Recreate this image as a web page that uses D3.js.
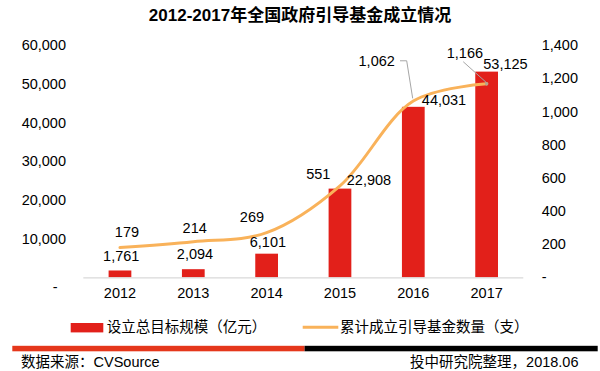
<!DOCTYPE html>
<html>
  <head>
    <meta charset="utf-8">
    <title>2012-2017年全国政府引导基金成立情况</title>
    <script src="https://cdn.jsdelivr.net/npm/d3@7"></script>
  </head>

  <style>
    body {
      margin: 0;
      background-color: #fff;
    }

    text {
      font-family: "Liberation Sans", Arial, "Noto Sans CJK SC", sans-serif;
      fill: #000;
    }

    .chart_title {
      font-size: 17px;
      font-weight: bold;
      text-anchor: middle;
    }

    .tick_label, .val_label, .legend_label {
      font-size: 14.5px;
    }

    .source {
      font-size: 14.5px;
    }
  </style>

  <body>
    <div id="chart"></div>
    <script>

    // data
    var years = ['2012', '2013', '2014', '2015', '2016', '2017'];
    var fundScale = [1761, 2094, 6101, 22908, 44031, 53125];   // 设立总目标规模（亿元）
    var fundCount = [179, 214, 269, 551, 1062, 1166];          // 累计成立引导基金数量（支）
    var leftTicks = [0, 10000, 20000, 30000, 40000, 50000, 60000];
    var rightTicks = [0, 200, 400, 600, 800, 1000, 1200, 1400];

    var width = 600;
    var height = 371;
    var plotLeft = 83.3;
    var plotRight = 523.3;
    var plotTop = 45;
    var plotBottom = 277.3;

    var barColor = '#e2201a';
    var lineColor = '#f9b25a';

    var svg = d3.select('#chart').append('svg')
      .attr('width', width)
      .attr('height', height)
      .style('background', '#fff');

    var xScale = d3.scaleBand()
      .domain(years)
      .range([plotLeft, plotRight])
      .paddingInner(0.69)
      .paddingOuter(0.345);

    var yLeft = d3.scaleLinear()
      .domain([0, 60000])
      .range([plotBottom, plotTop]);

    var yRight = d3.scaleLinear()
      .domain([0, 1400])
      .range([plotBottom, plotTop]);

    function cx(y) {
      return xScale(y) + xScale.bandwidth() / 2;
    }

    var fmt = d3.format(',');

    svg.append('text')
      .attr('class', 'chart_title')
      .attr('x', 300)
      .attr('y', 14.6)
      .attr('dy', '0.35em')
      .text('2012-2017年全国政府引导基金成立情况');

    // left axis
    var leftAxis = svg.append('g')
      .attr('transform', 'translate(66,0)')
      .call(d3.axisLeft(yLeft)
        .tickValues(leftTicks)
        .tickSize(0)
        .tickPadding(0)
        .tickFormat(function(d) { return d === 0 ? '-' : fmt(d); }));
    leftAxis.select('.domain').remove();
    leftAxis.selectAll('text')
      .attr('class', 'tick_label')
      .attr('fill', '#000')
      .style('font-family', null);
    // the zero dash sits a little lower and further in
    leftAxis.selectAll('.tick').filter(function(d) { return d === 0; })
      .select('text')
      .attr('x', -8.5)
      .attr('dy', '1em');

    // right axis
    var rightAxis = svg.append('g')
      .attr('transform', 'translate(541.7,0)')
      .call(d3.axisRight(yRight)
        .tickValues(rightTicks)
        .tickSize(0)
        .tickPadding(0)
        .tickFormat(function(d) { return d === 0 ? '-' : fmt(d); }));
    rightAxis.select('.domain').remove();
    rightAxis.selectAll('text')
      .attr('class', 'tick_label')
      .attr('fill', '#000')
      .style('font-family', null);

    // bars
    svg.append('g')
      .selectAll('rect')
      .data(fundScale)
      .enter().append('rect')
      .attr('x', function(d, i) { return xScale(years[i]); })
      .attr('width', xScale.bandwidth())
      .attr('y', function(d) { return yLeft(d); })
      .attr('height', function(d) { return plotBottom - yLeft(d); })
      .attr('fill', barColor);

    // baseline
    svg.append('line')
      .attr('x1', plotLeft)
      .attr('x2', plotRight)
      .attr('y1', plotBottom + 0.5)
      .attr('y2', plotBottom + 0.5)
      .attr('stroke', '#d9d9d9')
      .attr('stroke-width', 1.2);

    // x labels
    svg.append('g')
      .selectAll('text')
      .data(years)
      .enter().append('text')
      .attr('class', 'tick_label')
      .attr('x', function(d) { return cx(d); })
      .attr('y', 293.3)
      .attr('dy', '0.35em')
      .attr('text-anchor', 'middle')
      .text(function(d) { return d; });

    // line
    var line = d3.line()
      .x(function(d, i) { return cx(years[i]); })
      .y(function(d) { return yRight(d); })
      .curve(d3.curveCatmullRom);

    svg.append('path')
      .datum(fundCount)
      .attr('d', line)
      .attr('fill', 'none')
      .attr('stroke', lineColor)
      .attr('stroke-width', 3)
      .attr('stroke-linecap', 'round');

    // leader lines for the last two line labels
    var p2016 = [cx('2016'), yRight(fundCount[4])];
    var p2017 = [cx('2017'), yRight(fundCount[5])];
    svg.append('polyline')
      .attr('points', [[p2016[0] - 13.3, p2016[1] - 40.3], [p2016[0] - 6.6, p2016[1] - 40.3], [p2016[0] - 0.6, p2016[1] - 2.7]].join(' '))
      .attr('fill', 'none')
      .attr('stroke', '#a6a6a6')
      .attr('stroke-width', 1);
    svg.append('line')
      .attr('x1', p2017[0] - 23.4)
      .attr('y1', p2017[1] - 22.1)
      .attr('x2', p2017[0] + 0.6)
      .attr('y2', p2017[1] - 0.5)
      .attr('stroke', '#a6a6a6')
      .attr('stroke-width', 1);
    svg.append('circle')
      .attr('cx', p2017[0])
      .attr('cy', p2017[1])
      .attr('r', 1.8)
      .attr('fill', '#b5a48f');

    // bar value labels, nudged by hand in the original
    var barDx = [1.3, 1.7, 1.3, 29, 30.7, 18.8];
    var barDy = [-15, -15.6, -11.7, -8.4, -6.7, -7.6];
    svg.append('g')
      .selectAll('text')
      .data(fundScale)
      .enter().append('text')
      .attr('class', 'val_label')
      .attr('x', function(d, i) { return cx(years[i]) + barDx[i]; })
      .attr('y', function(d, i) { return yLeft(d) + barDy[i]; })
      .attr('dy', '0.35em')
      .attr('text-anchor', 'middle')
      .text(function(d) { return fmt(d); });

    // line value labels
    var lineDx = [7, 1.4, -14.7, -21.7, -36.6, -21.7];
    var lineDy = [-15.6, -13.8, -15.7, -11.7, -40.3, -31];
    svg.append('g')
      .selectAll('text')
      .data(fundCount)
      .enter().append('text')
      .attr('class', 'val_label')
      .attr('x', function(d, i) { return cx(years[i]) + lineDx[i]; })
      .attr('y', function(d, i) { return yRight(d) + lineDy[i]; })
      .attr('dy', '0.35em')
      .attr('text-anchor', 'middle')
      .text(function(d) { return fmt(d); });

    // legend
    svg.append('rect')
      .attr('x', 70.7)
      .attr('y', 323)
      .attr('width', 32.6)
      .attr('height', 9.4)
      .attr('fill', barColor);
    svg.append('text')
      .attr('class', 'legend_label')
      .attr('x', 106.7)
      .attr('y', 327)
      .attr('dy', '0.35em')
      .text('设立总目标规模（亿元）');
    svg.append('line')
      .attr('x1', 302.7)
      .attr('x2', 338.3)
      .attr('y1', 327.3)
      .attr('y2', 327.3)
      .attr('stroke', lineColor)
      .attr('stroke-width', 3);
    svg.append('text')
      .attr('class', 'legend_label')
      .attr('x', 340)
      .attr('y', 327)
      .attr('dy', '0.35em')
      .text('累计成立引导基金数量（支）');

    // footer
    svg.append('rect')
      .attr('x', 12.3)
      .attr('y', 345.8)
      .attr('width', 292.3)
      .attr('height', 5.5)
      .attr('fill', '#e5371b');
    svg.append('rect')
      .attr('x', 304.6)
      .attr('y', 345.8)
      .attr('width', 293.1)
      .attr('height', 5.5)
      .attr('fill', '#000');
    svg.append('text')
      .attr('class', 'source')
      .attr('x', 21)
      .attr('y', 361.5)
      .attr('dy', '0.35em')
      .text('数据来源：CVSource');
    svg.append('text')
      .attr('class', 'source')
      .attr('x', 578.5)
      .attr('y', 361.5)
      .attr('dy', '0.35em')
      .attr('text-anchor', 'end')
      .text('投中研究院整理，2018.06');

    </script>
  </body>
</html>
